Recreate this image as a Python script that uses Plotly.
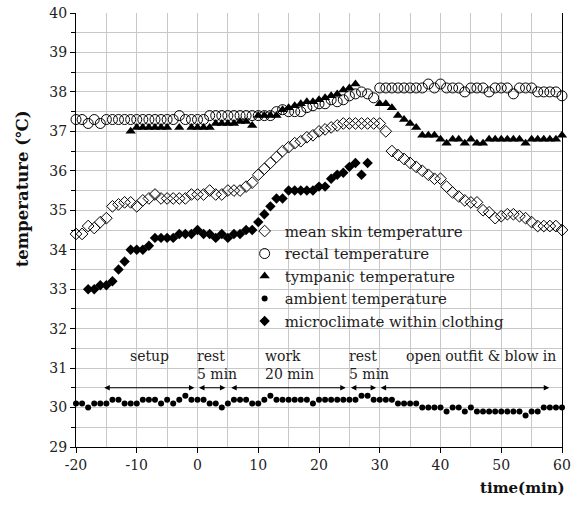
import plotly.graph_objects as go

times = list(range(-20, 61))

mean_skin = [
    34.4, 34.4, 34.6, 34.55, 34.7, 34.8, 35.1, 35.15, 35.2, 35.2,
    35.1, 35.25, 35.3, 35.4, 35.3, 35.3, 35.3, 35.3, 35.3, 35.4,
    35.4, 35.4, 35.5, 35.4, 35.4, 35.5, 35.5, 35.5, 35.6, 35.7,
    35.9, 36.05, 36.2, 36.35, 36.5, 36.6, 36.7, 36.75, 36.85, 36.9,
    37.0, 37.05, 37.1, 37.15, 37.2, 37.2, 37.2, 37.2, 37.2, 37.2,
    37.2, 37.0, 36.5, 36.4, 36.3, 36.2, 36.1, 36.0, 35.9, 35.8,
    35.8, 35.6, 35.45, 35.35, 35.25, 35.2, 35.2, 35.0, 34.95, 34.8,
    34.85, 34.9, 34.9, 34.85, 34.8, 34.7, 34.6, 34.6, 34.6, 34.6,
    34.5,
]

rectal = [
    37.3, 37.3, 37.2, 37.3, 37.2, 37.3, 37.3, 37.3, 37.3, 37.3,
    37.3, 37.3, 37.3, 37.3, 37.3, 37.3, 37.3, 37.4, 37.3, 37.3,
    37.3, 37.3, 37.4, 37.4, 37.4, 37.4, 37.4, 37.4, 37.4, 37.4,
    37.4, 37.4, 37.4, 37.5, 37.55, 37.5, 37.5, 37.5, 37.6, 37.65,
    37.7, 37.7, 37.8, 37.75, 37.8, 37.9, 37.95, 38.0, 37.95, 37.85,
    38.1, 38.1, 38.1, 38.1, 38.1, 38.1, 38.1, 38.1, 38.2, 38.1,
    38.2, 38.1, 38.1, 38.1, 38.0, 38.1, 38.1, 38.1, 38.0, 38.1,
    38.1, 38.1, 37.95, 38.1, 38.1, 38.1, 38.0, 38.0, 38.0, 38.0,
    37.9,
]

tympanic = [
    None, None, None, None, None, None, None, None, None, 37.0,
    37.1, 37.1, 37.1, 37.1, 37.1, 37.1, None, 37.1, None, 37.1,
    37.1, 37.1, 37.1, 37.2, 37.2, 37.2, 37.2, 37.25, 37.25, 37.15,
    37.4, 37.4, 37.4, 37.4, 37.55, 37.6, 37.65, 37.7, 37.75, 37.75,
    37.8, 37.85, 37.9, 37.95, 38.05, 38.1, 38.2, None, None, None,
    37.7, 37.7, 37.6, 37.4, 37.3, 37.2, 37.1, 36.9, 36.9, 36.9,
    36.8, 36.7, 36.8, 36.8, 36.7, 36.8, 36.7, 36.7, 36.8, 36.8,
    36.8, 36.8, 36.8, 36.8, 36.7, 36.8, 36.8, 36.8, 36.8, 36.8,
    36.9,
]

ambient = [
    30.1, 30.1, 30.0, 30.1, 30.1, 30.1, 30.2, 30.2, 30.1, 30.1,
    30.1, 30.2, 30.2, 30.2, 30.1, 30.2, 30.1, 30.2, 30.3, 30.2,
    30.2, 30.2, 30.1, 30.1, 30.0, 30.1, 30.2, 30.2, 30.2, 30.1,
    30.1, 30.2, 30.3, 30.2, 30.2, 30.2, 30.2, 30.2, 30.2, 30.1,
    30.2, 30.2, 30.2, 30.2, 30.2, 30.2, 30.2, 30.3, 30.3, 30.2,
    30.2, 30.2, 30.2, 30.1, 30.1, 30.1, 30.1, 30.0, 30.0, 30.0,
    30.0, 29.9, 30.0, 30.0, 29.9, 30.0, 29.9, 29.9, 29.9, 29.9,
    29.9, 29.9, 29.9, 29.9, 29.8, 29.9, 29.9, 30.0, 30.0, 30.0,
    30.0,
]

microclimate = [
    None, None, 33.0, 33.0, 33.1, 33.1, 33.2, 33.5, 33.7, 34.0,
    34.0, 34.0, 34.1, 34.3, 34.3, 34.3, 34.3, 34.4, 34.4, 34.4,
    34.5, 34.4, 34.4, 34.3, 34.4, 34.3, 34.4, 34.4, 34.5, 34.5,
    34.7, 34.9, 35.1, 35.3, 35.3, 35.5, 35.5, 35.5, 35.5, 35.5,
    35.6, 35.6, 35.8, 35.9, 35.95, 36.1, 36.2, 35.9, 36.2, None,
] + [None] * 31

series_names = [
    "mean skin temperature",
    "rectal temperature",
    "tympanic temperature",
    "ambient temperature",
    "microclimate within clothing",
]

x_tick_vals = [-20, -10, 0, 10, 20, 30, 40, 50, 60]
x_tick_text = ["-20", "-10", "0", "10", "20", "30", "40", "50", "60"]
y_tick_vals = list(range(29, 41))

# phases: (start, end) of arrows
phase_spans = [(-15.6, -0.5), (0.0, 4.6), (5.3, 24.4), (25.0, 29.4), (29.9, 57.9)]
phase_labels = ["setup", "rest<br>5 min", "work<br>20 min", "rest<br>5 min", "open outfit &amp; blow in"]
phase_label_x = [-11.5, -0.4, 10.8, 24.6, 34.0]

FONT = "DejaVu Serif"

styles = [
    dict(symbol="diamond-open", size=9, color="black", line=dict(width=1, color="black")),
    dict(symbol="circle-open", size=10, color="black", line=dict(width=1, color="black")),
    dict(symbol="triangle-up", size=9, color="black"),
    dict(symbol="circle", size=6, color="black"),
    dict(symbol="diamond", size=8, color="black"),
]

fig = go.Figure()
for name, vals, st in zip(series_names, [mean_skin, rectal, tympanic, ambient, microclimate], styles):
    fig.add_trace(go.Scatter(
        x=times, y=vals, mode="markers", name=name, marker=st, cliponaxis=False,
    ))

grid = "#c8c8c8"
fig.update_layout(
    width=571, height=506,
    margin=dict(l=76, r=9, t=13, b=59, autoexpand=False),
    plot_bgcolor="white", paper_bgcolor="white",
    font=dict(family=FONT, size=14, color="#222"),
    showlegend=True,
    legend=dict(
        x=0.347, y=0.535, xanchor="left", yanchor="top",
        bgcolor="rgba(0,0,0,0)", font=dict(family=FONT, size=15, color="#222"),
        tracegroupgap=0, itemwidth=30,
    ),
    xaxis=dict(
        range=[-20, 60], tickvals=x_tick_vals, ticktext=x_tick_text,
        showgrid=True, gridcolor=grid, gridwidth=1,
        minor=dict(dtick=5, tick0=-20, showgrid=True, gridcolor=grid, gridwidth=1, ticks=""),
        showline=True, linecolor="black", linewidth=1.3,
        ticks="outside", ticklen=5, tickcolor="black",
        zeroline=False, mirror=False, automargin=False,
        tickfont=dict(family=FONT, size=14, color="#222"),
    ),
    yaxis=dict(
        range=[29, 40], tickvals=y_tick_vals,
        showgrid=True, gridcolor=grid, gridwidth=1,
        minor=dict(dtick=0.5, tick0=29, showgrid=True, gridcolor=grid, gridwidth=1,
                   ticks="outside", ticklen=4, tickcolor="black"),
        showline=True, linecolor="black", linewidth=1.3, mirror=True,
        ticks="outside", ticklen=5, tickcolor="black",
        zeroline=False, automargin=False,
        tickfont=dict(family=FONT, size=14, color="#222"),
    ),
)

annotations = []
for (a, b) in phase_spans:
    annotations.append(dict(
        x=b, y=30.5, ax=a, ay=30.5, xref="x", yref="y", axref="x", ayref="y",
        text="", showarrow=True, arrowhead=2, arrowside="end+start",
        arrowsize=1, arrowwidth=1.1, arrowcolor="black", standoff=0, startstandoff=0,
    ))
for lx, lab in zip(phase_label_x, phase_labels):
    annotations.append(dict(
        x=lx, y=31.55, xref="x", yref="y", text=lab, showarrow=False,
        xanchor="left", yanchor="top", align="left",
        font=dict(family=FONT, size=14, color="#222"),
    ))
annotations.append(dict(
    x=-0.11, y=0.595, xref="paper", yref="paper", text="<b>temperature (℃)</b>",
    textangle=-90, showarrow=False, xanchor="center", yanchor="middle",
    font=dict(family=FONT, size=16.5, color="#111"),
))
annotations.append(dict(
    x=1.01, y=-0.095, xref="paper", yref="paper", text="<b>time(min)</b>",
    showarrow=False, xanchor="right", yanchor="middle",
    font=dict(family=FONT, size=15, color="#111"),
))
fig.update_layout(annotations=annotations)

fig.write_html("out.html", config={"displayModeBar": False},
               post_script="document.body.style.margin='0px';")
